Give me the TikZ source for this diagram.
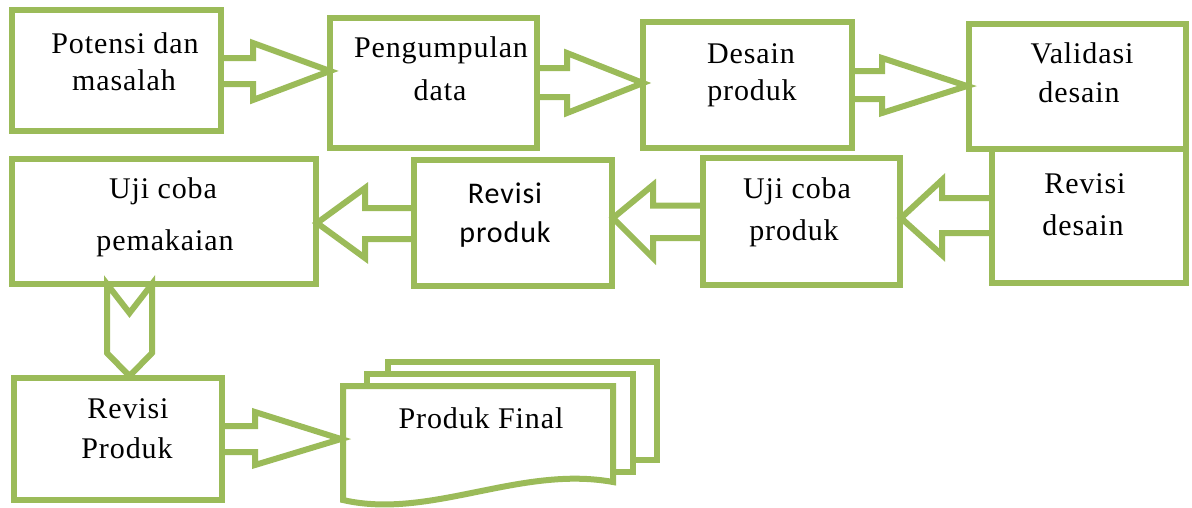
\documentclass[tikz,border=0pt]{standalone}
\usepackage{fontspec}
\newfontfamily\tnrfont{Liberation Serif}[LetterSpace=3]
\newfontfamily\calfont{Carlito}[LetterSpace=3]
\definecolor{grn}{HTML}{9BBB59}
\begin{document}
\begin{tikzpicture}[x=1pt,y=-1pt,
  box/.style={draw=grn, line width=6pt, inner sep=0pt, rectangle},
  blk/.style={draw=grn, line width=6pt, line join=miter},
  txt/.style={font=\tnrfont\fontsize{30}{36}\selectfont, anchor=base, inner sep=0pt},
  stxt/.style={font=\calfont\fontsize{30}{36}\selectfont, anchor=base, inner sep=0pt}]
\useasboundingbox (0,0) rectangle (1192,507);

% boxes
\node[box, minimum width=209.5pt, minimum height=121pt] (b1) at (116.25,70.5) {};
\node[box, minimum width=207pt, minimum height=130pt] (b2) at (433.5,83) {};
\node[box, minimum width=209pt, minimum height=126pt] (b3) at (747.5,85) {};
\node[box, minimum width=217pt, minimum height=125pt] (b4) at (1077.5,86.5) {};
\node[box, minimum width=194pt, minimum height=134pt] (b5) at (1089,216) {};
\node[box, minimum width=197pt, minimum height=127pt] (b6) at (801.5,221.5) {};
\node[box, minimum width=198pt, minimum height=126pt] (b7) at (513,223) {};
\node[box, minimum width=304pt, minimum height=125pt] (b8) at (164,221.5) {};
\node[box, minimum width=208pt, minimum height=122pt] (b9) at (118,439) {};

% multi-document (Produk Final)
\draw[blk, fill=white] (388,374) -- (388,362) -- (657,362) -- (657,460) -- (633,460);
\draw[blk, fill=white] (367,386) -- (367,374) -- (633,374) -- (633,472) -- (613,472);
\draw[blk, fill=white] (343,386) -- (613,386) -- (613,482)
   .. controls (520,465) and (430,520) .. (343,500) -- cycle;
\coordinate (b10) at (343,439);

% block arrows
\draw[blk] (221,58) -- (253,58) -- (253,43) -- (330,71) -- (253,100) -- (253,84) -- (221,84);
\draw[blk] (537,68) -- (567,68) -- (567,53) -- (643,83) -- (567,113) -- (567,97) -- (537,97);
\draw[blk] (852,71) -- (882,71) -- (882,58) -- (967,86) -- (882,113) -- (882,99) -- (852,99);
\draw[blk] (992,198) -- (942,198) -- (942,180) -- (901,218) -- (942,255) -- (942,233) -- (992,233);
\draw[blk] (703,205.5) -- (653,205.5) -- (653,185) -- (613,218) -- (653,258) -- (653,238) -- (703,238);
\draw[blk] (414,208) -- (365,208) -- (365,188) -- (317,223) -- (365,258) -- (365,239) -- (414,239);
\draw[blk] (107,284) -- (129.5,313) -- (152,284) -- (152,353) -- (129.5,376) -- (107,353) -- cycle;
\draw[blk] (222,426) -- (255,426) -- (255,412) -- (341,439) -- (255,465) -- (255,452) -- (222,452);

% texts
\node[txt] (t1a) at (125,53) {Potensi dan};
\node[txt] (t1b) at (124,90) {masalah};
\node[txt] (t2a) at (441,57) {Pengumpulan};
\node[txt] (t2b) at (440,100) {data};
\node[txt] (t3a) at (751,63) {Desain};
\node[txt] (t3b) at (752,100) {produk};
\node[txt] (t4a) at (1082,63) {Validasi};
\node[txt] (t4b) at (1079,102) {desain};
\node[txt] (t5a) at (1085,193) {Revisi};
\node[txt] (t5b) at (1083,235) {desain};
\node[txt] (t6a) at (797,198) {Uji coba};
\node[txt] (t6b) at (794,240) {produk};
\node[stxt] (t7a) at (505,203) {Revisi};
\node[stxt] (t7b) at (505,242) {produk};
\node[txt] (t8a) at (163,198) {Uji coba};
\node[txt] (t8b) at (165,250) {pemakaian};
\node[txt] (t9a) at (128,418) {Revisi};
\node[txt] (t9b) at (127,458) {Produk};
\node[txt] (t10) at (481,428) {Produk Final};
\end{tikzpicture}
\end{document}
